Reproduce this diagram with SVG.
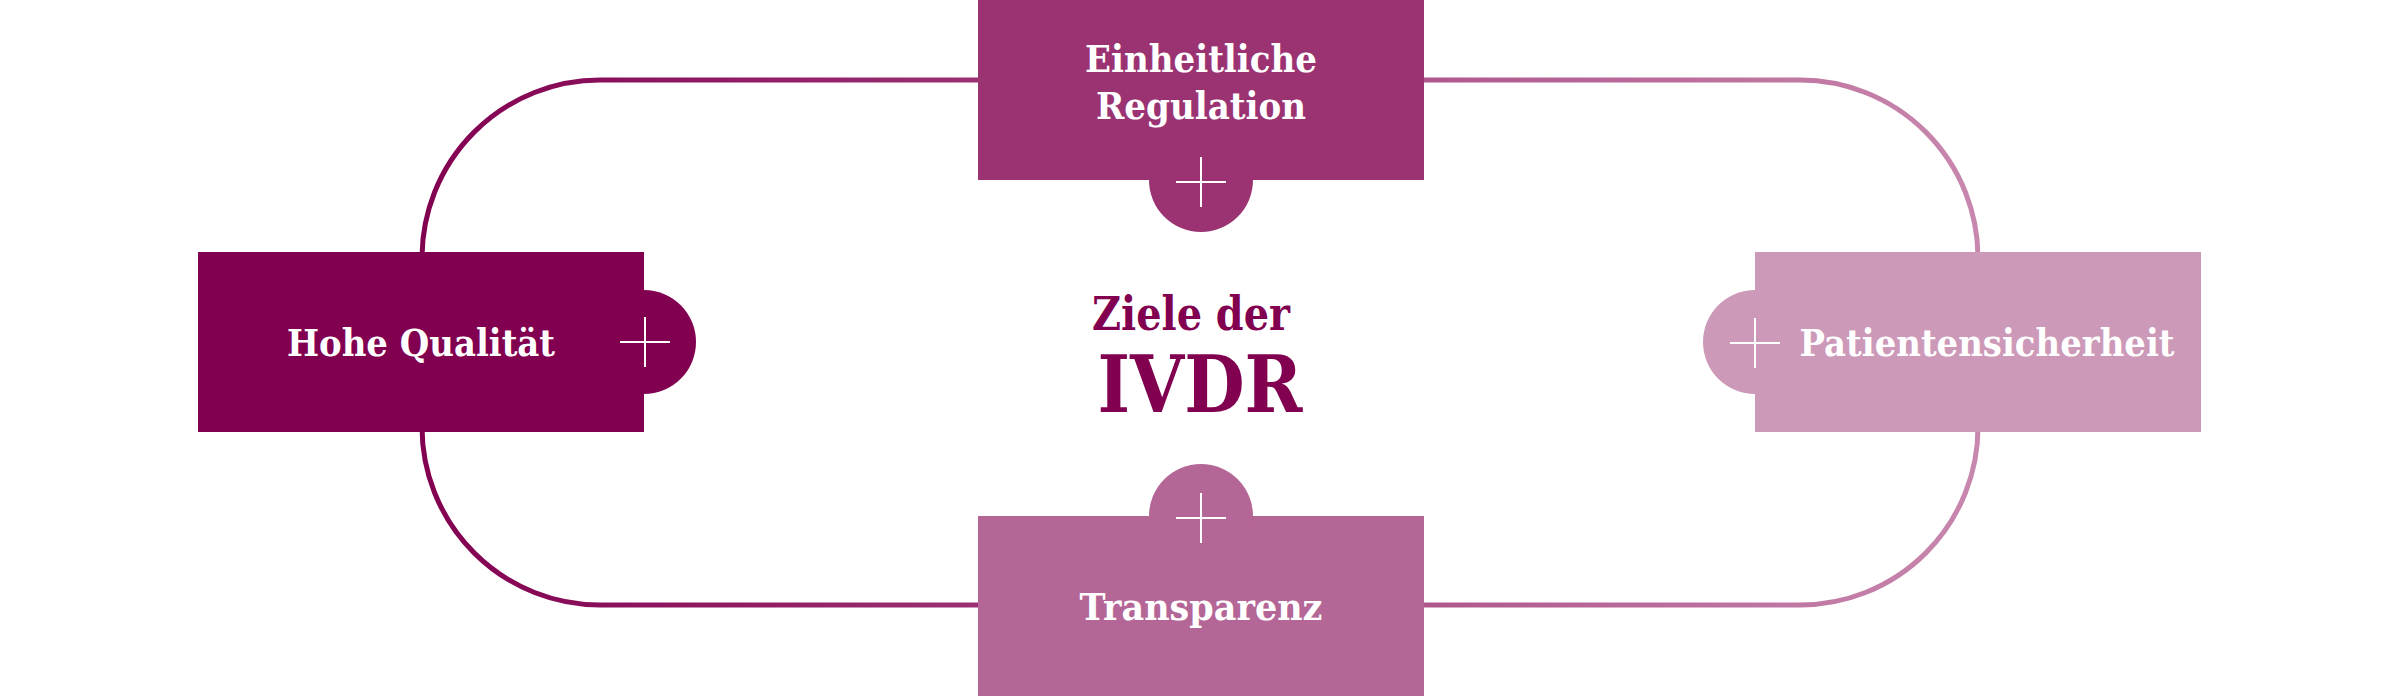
<svg xmlns="http://www.w3.org/2000/svg" width="2400" height="696" viewBox="0 0 2400 696">
<style>
.lbl{font-family:"DejaVu Serif","Liberation Serif",serif;font-weight:bold;fill:#ffffff;font-size:38px;text-anchor:middle}
.ctr{font-family:"DejaVu Serif","Liberation Serif",serif;font-weight:bold;fill:#820050;text-anchor:middle}
.plus{stroke:#ffffff;stroke-width:2;fill:none}
</style>
<defs>
<linearGradient id="lg" gradientUnits="userSpaceOnUse" x1="422" y1="0" x2="1978" y2="0">
<stop offset="0" stop-color="#820050"/>
<stop offset="1" stop-color="#c887ae"/>
</linearGradient>
</defs>
<rect width="2400" height="696" fill="#ffffff"/>
<g id="connectors">
<path d="M600,80 H1800 A178,178 0 0 1 1978,258 V427 A178,178 0 0 1 1800,605 H600 A178,178 0 0 1 422,427 V258 A178,178 0 0 1 600,80 Z" fill="none" stroke="url(#lg)" stroke-width="5"/>
</g>
<g id="node-regulation">
<rect x="978" y="0" width="446" height="180" fill="#9b3373"/>
<circle cx="1201" cy="180" r="52" fill="#9b3373"/>
<path class="plus" d="M1176,182 H1226 M1201,157 V207"/>
<text class="lbl" x="1201" y="72" textLength="232" lengthAdjust="spacingAndGlyphs">Einheitliche</text>
<text class="lbl" x="1201" y="119" textLength="210" lengthAdjust="spacingAndGlyphs">Regulation</text>
</g>
<g id="node-qualitaet">
<rect x="198" y="252" width="446" height="180" fill="#820050"/>
<circle cx="644" cy="342" r="52" fill="#820050"/>
<path class="plus" d="M620,342 H670 M645,317 V367"/>
<text class="lbl" x="421" y="356" textLength="268" lengthAdjust="spacingAndGlyphs">Hohe Qualität</text>
</g>
<g id="node-patient">
<rect x="1755" y="252" width="446" height="180" fill="#cd99b9"/>
<circle cx="1755" cy="342" r="52" fill="#cd99b9"/>
<path class="plus" d="M1730,343 H1780 M1755,318 V368"/>
<text class="lbl" x="1987" y="356" textLength="375" lengthAdjust="spacingAndGlyphs">Patientensicherheit</text>
</g>
<g id="node-transparenz">
<rect x="978" y="516" width="446" height="180" fill="#b46696"/>
<circle cx="1201" cy="516" r="52" fill="#b46696"/>
<path class="plus" d="M1176,518 H1226 M1201,493 V543"/>
<text class="lbl" x="1201" y="620" textLength="243" lengthAdjust="spacingAndGlyphs">Transparenz</text>
</g>
<g id="center-title">
<text class="ctr" x="1191" y="330" font-size="46" textLength="198" lengthAdjust="spacingAndGlyphs">Ziele der</text>
<text class="ctr" x="1200" y="412" font-size="78" textLength="205" lengthAdjust="spacingAndGlyphs">IVDR</text>
</g>
</svg>
